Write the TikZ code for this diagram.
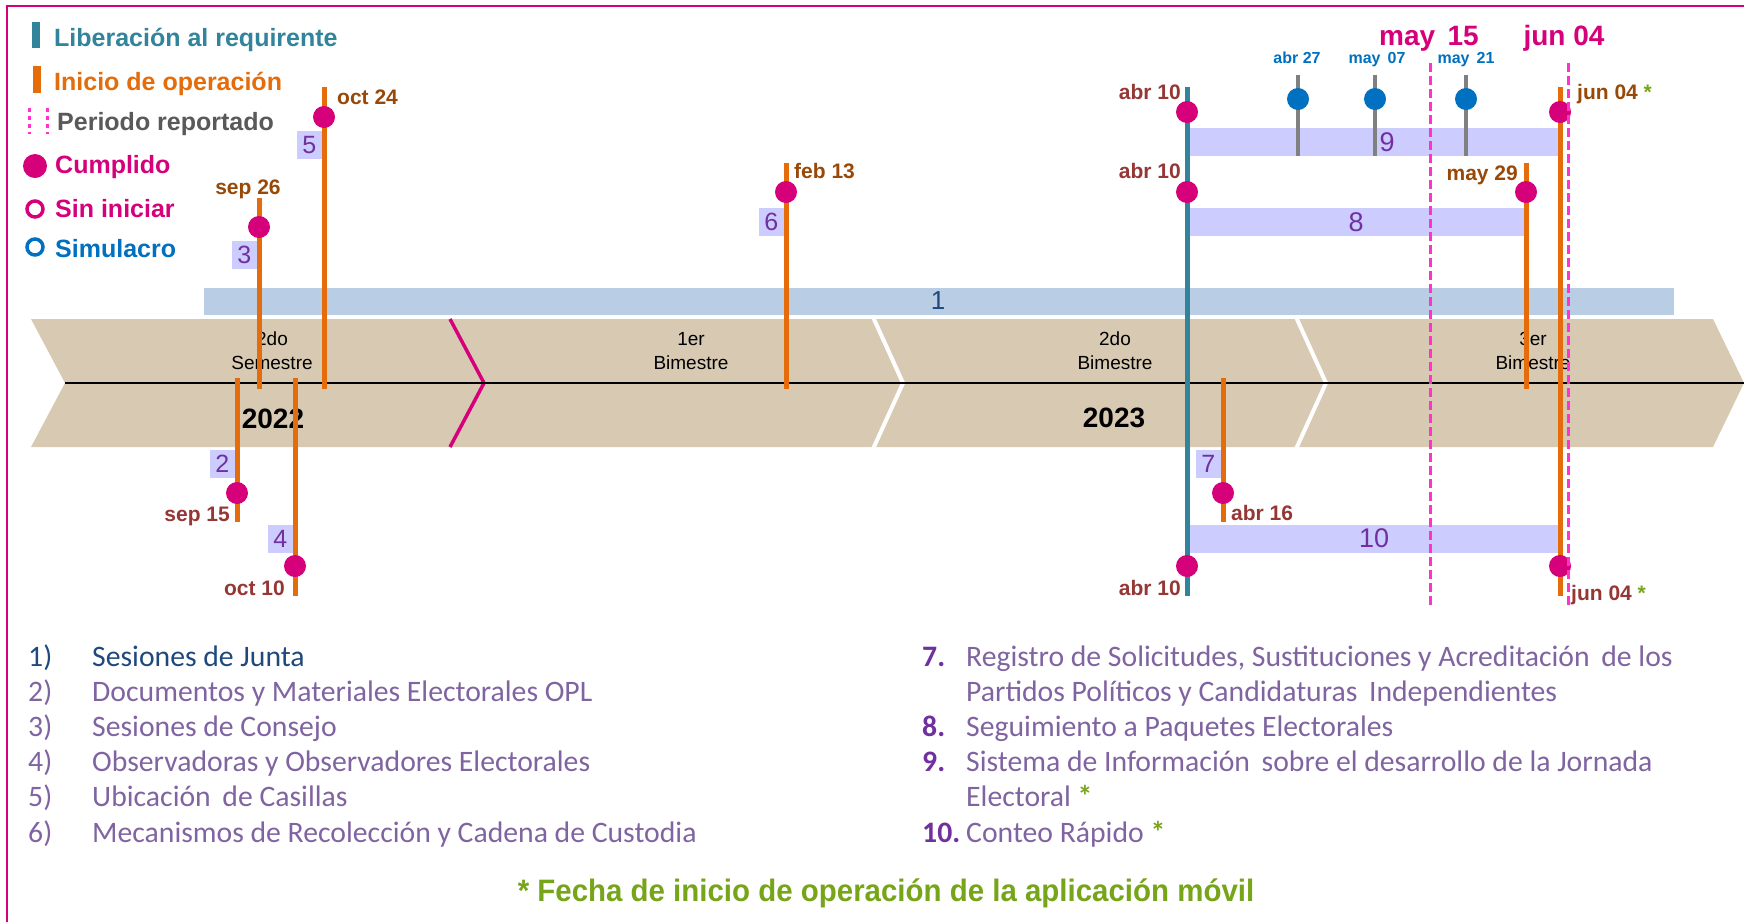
\documentclass[tikz,border=0pt]{standalone}
\usepackage{fontspec}
\setmainfont{Liberation Sans}
\newfontfamily\listfont{Carlito}
\newfontfamily\footfont[FakeStretch=0.95]{Liberation Sans}

\definecolor{frameColor}{RGB}{214,0,123}
\definecolor{doneColor}{RGB}{214,0,123}
\definecolor{relColor}{RGB}{49,132,155}
\definecolor{operColor}{RGB}{228,108,10}
\definecolor{periodColor}{RGB}{255,51,204}
\definecolor{greyText}{RGB}{89,89,89}
\definecolor{simColor}{RGB}{0,112,192}
\definecolor{simLine}{RGB}{128,128,128}
\definecolor{bandColor}{RGB}{185,205,229}
\definecolor{juntaColor}{RGB}{31,73,125}
\definecolor{stripColor}{RGB}{216,202,178}
\definecolor{boxFill}{RGB}{204,204,255}
\definecolor{numColor}{RGB}{112,48,160}
\definecolor{listColor}{RGB}{128,100,162}
\definecolor{upDate}{RGB}{152,72,7}
\definecolor{lowDate}{RGB}{149,55,53}
\definecolor{appColor}{RGB}{119,165,25}

\begin{document}
\begin{tikzpicture}[x=1pt,y=-1pt,
  legtext/.style={anchor=base west,inner sep=0pt,font=\bfseries\fontsize{25}{30}\selectfont},
  datetext/.style={inner sep=0pt,font=\bfseries\fontsize{21}{25}\selectfont},
  simtext/.style={anchor=base,inner sep=0pt,text=simColor,font=\bfseries\fontsize{16}{19}\selectfont},
  headtext/.style={anchor=base,inner sep=0pt,text=frameColor,font=\bfseries\fontsize{28}{33}\selectfont},
  stagetext/.style={align=center,inner sep=0pt,font=\fontsize{19}{24}\selectfont},
  yeartext/.style={inner sep=0pt,font=\bfseries\fontsize{28}{33}\selectfont},
  numbox/.style={anchor=east,fill=boxFill,text=numColor,inner sep=0pt,minimum width=25pt,minimum height=28pt,font=\fontsize{25}{30}\selectfont},
  barlabel/.style={inner sep=0pt,text=numColor,font=\fontsize{27}{32}\selectfont},
  oper/.style={draw=operColor,line width=5pt},
  rel/.style={draw=relColor,line width=5pt},
  sim/.style={draw=simLine,line width=4pt},
  period/.style={draw=periodColor,line width=3pt,dash pattern=on 9pt off 4pt},
  done/.style={fill=doneColor},
  listnum/.style={anchor=base west,inner sep=0pt,font=\listfont\fontsize{29.7}{34}\selectfont},
  listitem/.style={anchor=base west,inner sep=0pt,text=listColor,font=\listfont\fontsize{29.7}{34}\selectfont}]
\path[use as bounding box,fill=white] (0,0) rectangle (1744,922);

% legend
\path[fill=relColor] (32,22) rectangle (40,48);
\node[legtext,text=relColor] (legRel) at (54,46) {Liberación al requirente};
\path[fill=operColor] (33,66) rectangle (41,93);
\node[legtext,text=operColor] (legOper) at (54,90) {Inicio de operación};
\path[draw=periodColor,line width=3pt,dash pattern=on 4pt off 4pt] (29,108) -- (29,134);
\path[draw=periodColor,line width=3pt,dash pattern=on 4pt off 4pt] (47,108) -- (47,134);
\node[legtext,text=greyText] (legPeriod) at (57,130) {Periodo reportado};
\path[done] (35,166) circle (12pt);
\node[legtext,text=doneColor] (legDone) at (55,173) {Cumplido};
\path[draw=doneColor,line width=3.5pt] (35,209) circle (8pt);
\node[legtext,text=doneColor] (legTodo) at (55,217) {Sin iniciar};
\path[draw=simColor,line width=3.5pt] (35,247) circle (8pt);
\node[legtext,text=simColor] (legSim) at (55,257) {Simulacro};

% band 1
\path[fill=bandColor] (204,288) rectangle (1674,315);
\node[inner sep=0pt,text=juntaColor,font=\fontsize{26}{30}\selectfont] (bandJunta) at (938,301) {1};

% timeline strip
\path[fill=stripColor] (31,319) -- (1713,319) -- (1744,383) -- (1713,447) -- (31,447) -- (65,383) -- cycle;
\path[draw=white,line width=4pt] (873,317) -- (903,383) -- (873,449);
\path[draw=white,line width=4pt] (1296,317) -- (1326,383) -- (1296,449);
\path[draw=frameColor,line width=3.5pt] (450,319) -- (484,383) -- (450,447);
\path[draw=black,line width=2.5pt] (65,383) -- (1744,383);
\node[stagetext] (semII) at (272,351) {2do\\Semestre};
\node[stagetext] (bimI) at (691,351) {1er\\Bimestre};
\node[stagetext] (bimII) at (1115,351) {2do\\Bimestre};
\node[stagetext] (bimIII) at (1533,351) {3er\\Bimestre};
\node[yeartext] (yearA) at (273,419) {2022};
\node[yeartext] (yearB) at (1114,418) {2023};

% bars 8, 9, 10
\path[fill=boxFill] (1190,128) rectangle (1560,156);
\path[fill=boxFill] (1190,208) rectangle (1526,236);
\path[fill=boxFill] (1190,525) rectangle (1560,553);
\node[barlabel] (barNine) at (1387,142) {9};
\node[barlabel] (barEight) at (1356,222) {8};
\node[barlabel] (barTen) at (1374,538) {10};

% simulacros
\path[sim] (1298,75) -- (1298,156);
\path[sim] (1375,75) -- (1375,156);
\path[sim] (1466,75) -- (1466,156);
\path[fill=simColor] (1298,99) circle (11pt);
\path[fill=simColor] (1375,99) circle (11pt);
\path[fill=simColor] (1466,99) circle (11pt);
\node[simtext] (simA) at (1297,63) {abr 27};
\node[simtext] (simB) at (1377,63) {may\, 07};
\node[simtext] (simC) at (1466,63) {may\, 21};

% inicio de operacion
\path[oper] (237,378) -- (237,522);
\path[oper] (259,198) -- (259,389);
\path[oper] (295,378) -- (295,596);
\path[oper] (324,87) -- (324,389);
\path[oper] (786,163) -- (786,389);
\path[oper] (1223,378) -- (1223,522);
\path[oper] (1526,163) -- (1526,389);
\path[oper] (1560,87) -- (1560,596);
\path[rel] (1187,87) -- (1187,596);

% cumplido
\path[done] (237,493) circle (11pt);
\path[done] (259,227) circle (11pt);
\path[done] (295,566) circle (11pt);
\path[done] (324,117) circle (11pt);
\path[done] (786,192) circle (11pt);
\path[done] (1187,112) circle (11pt);
\path[done] (1187,192) circle (11pt);
\path[done] (1187,566) circle (11pt);
\path[done] (1223,493) circle (11pt);
\path[done] (1526,192) circle (11pt);
\path[done] (1560,112) circle (11pt);
\path[done] (1560,566) circle (11pt);

% numeros
\node[numbox] (boxTwo) at (235,464) {2};
\node[numbox] (boxThree) at (257,255) {3};
\node[numbox] (boxFour) at (293,539) {4};
\node[numbox] (boxFive) at (322,145) {5};
\node[numbox] (boxSix) at (784,222) {6};
\node[numbox] (boxSeven) at (1221,464) {7};

% fechas
\node[datetext,anchor=base east,text=lowDate] (dSepA) at (230,521) {sep 15};
\node[datetext,anchor=base,text=upDate] (dSepB) at (248,194) {sep 26};
\node[datetext,anchor=base east,text=lowDate] (dOctA) at (285,595) {oct 10};
\node[datetext,anchor=base west,text=upDate] (dOctB) at (337,104) {oct 24};
\node[datetext,anchor=base west,text=upDate] (dFeb) at (794,178) {feb 13};
\node[datetext,anchor=base east,text=lowDate] (dAbrA) at (1181,99) {abr 10};
\node[datetext,anchor=base east,text=lowDate] (dAbrB) at (1181,178) {abr 10};
\node[datetext,anchor=base east,text=lowDate] (dAbrC) at (1181,595) {abr 10};
\node[datetext,anchor=base west,text=lowDate] (dAbrD) at (1231,520) {abr 16};
\node[datetext,anchor=base east,text=upDate] (dMay) at (1518,180) {may 29};
\node[datetext,anchor=base west,text=upDate] (dJunA) at (1577,99) {jun 04 \textcolor{appColor}{*}};
\node[datetext,anchor=base west,text=lowDate] (dJunB) at (1571,600) {jun 04 \textcolor{appColor}{*}};

% periodo reportado
\path[period] (1430,63) -- (1430,607);
\path[period] (1568,63) -- (1568,607);
\node[headtext] (headMay) at (1429,45) {may\, 15};
\node[headtext] (headJun) at (1564,45) {jun 04};

% lista
\node[listnum,text=juntaColor] (numA) at (28,666) {1)};
\node[listitem,text=juntaColor] (itemA) at (92,666) {Sesiones de Junta};
\node[listnum,text=listColor] (numB) at (28,701) {2)};
\node[listitem] (itemB) at (92,701) {Documentos y Materiales Electorales OPL};
\node[listnum,text=listColor] (numC) at (28,736) {3)};
\node[listitem] (itemC) at (92,736) {Sesiones de Consejo};
\node[listnum,text=listColor] (numD) at (28,771) {4)};
\node[listitem] (itemD) at (92,771) {Observadoras y Observadores Electorales};
\node[listnum,text=listColor] (numE) at (28,806) {5)};
\node[listitem] (itemE) at (92,806) {Ubicación\, de Casillas};
\node[listnum,text=listColor] (numF) at (28,842) {6)};
\node[listitem] (itemF) at (92,842) {Mecanismos de Recolección y Cadena de Custodia};

\node[listnum,text=numColor,font=\listfont\bfseries\fontsize{29.7}{34}\selectfont] (numG) at (922,666) {7.};
\node[listitem] (itemG) at (966,666) {Registro de Solicitudes, Sustituciones y Acreditación\, de los};
\node[listitem] (itemGb) at (966,701) {Partidos Políticos y Candidaturas\, Independientes};
\node[listnum,text=numColor,font=\listfont\bfseries\fontsize{29.7}{34}\selectfont] (numH) at (922,736) {8.};
\node[listitem] (itemH) at (966,736) {Seguimiento a Paquetes Electorales};
\node[listnum,text=numColor,font=\listfont\bfseries\fontsize{29.7}{34}\selectfont] (numI) at (922,771) {9.};
\node[listitem] (itemI) at (966,771) {Sistema de Información\, sobre el desarrollo de la Jornada};
\node[listitem] (itemIb) at (966,806) {Electoral \textcolor{appColor}{\bfseries *}};
\node[listnum,text=numColor,font=\listfont\bfseries\fontsize{29.7}{34}\selectfont] (numJ) at (922,842) {10.};
\node[listitem] (itemJ) at (966,842) {Conteo Rápido \textcolor{appColor}{\bfseries *}};

\node[anchor=base,inner sep=0pt,text=appColor,font=\footfont\bfseries\fontsize{31}{36}\selectfont] (nota) at (886,901) {* Fecha de inicio de operación de la aplicación móvil};

% marco
\path[draw=frameColor,line width=2pt] (7,922) -- (7,6) -- (1744,6);
\end{tikzpicture}
\end{document}
